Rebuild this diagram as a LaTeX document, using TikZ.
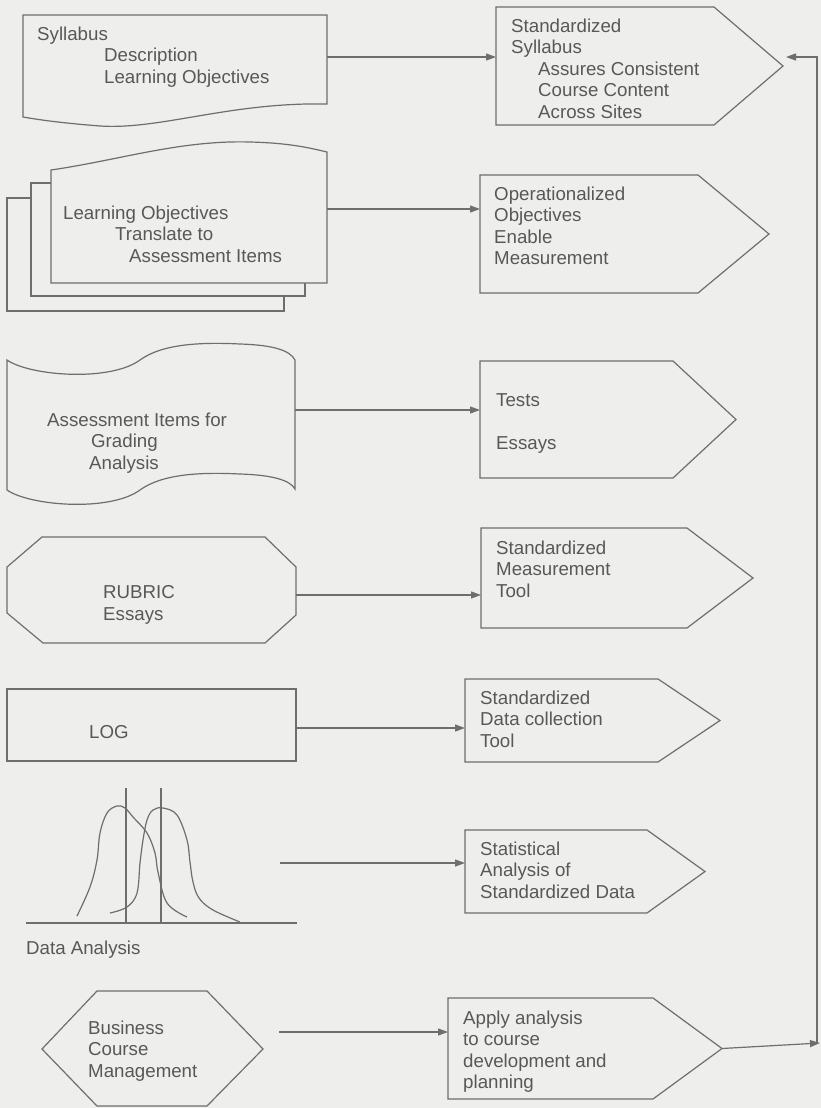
\documentclass[tikz,border=0pt]{standalone}
\usepackage{fontspec}
\setmainfont{Liberation Sans}
\usetikzlibrary{arrows.meta}
\definecolor{bgc}{RGB}{238,238,236}
\definecolor{lnc}{RGB}{110,110,110}
\definecolor{txc}{RGB}{88,88,88}
\newcommand\mypenta[5]{\draw[shp] (#1,#2) -- (#3,#2) -- (#4,{(#2+#5)/2}) -- (#3,#5) -- (#1,#5) -- cycle;}
\begin{document}
\begin{tikzpicture}[x=1pt,y=-1pt,
  shp/.style={draw=lnc,line width=1.2pt,line join=miter},
  sheet/.style={shp,fill=bgc},
  lbl/.style={text=txc,font=\fontsize{18.7}{21.5}\selectfont,align=left,anchor=north west,inner sep=0pt},
  conn/.style={draw=lnc,line width=1.2pt,-{Triangle[length=10pt,width=7pt]}},
  plain/.style={draw=lnc,line width=1.2pt}]
\useasboundingbox (0,0) rectangle (821,1108);
\fill[bgc] (0,0) rectangle (821,1108);

% ---- row 1: syllabus document
\draw[shp] (23,15) -- (327,15) -- (327,104) .. controls (230,102) and (160,130) .. (100,126)
  .. controls (62,123) and (40,120) .. (23,117) -- cycle;
\node[lbl] (tsyl) at (37,26.5) {Syllabus\\\hspace*{67pt}Description\\\hspace*{67pt}Learning Objectives};
\mypenta{496}{7}{714}{783}{125}
\node[lbl] (tstd) at (511,18.5) {Standardized\\Syllabus\\\hspace*{27pt}Assures Consistent\\\hspace*{27pt}Course Content\\\hspace*{27pt}Across Sites};
\coordinate (d1out) at (327,57);
\coordinate (s1in) at (496,57);
\draw[conn] (d1out) -- (s1in);

% ---- row 2: stacked documents
\draw[sheet] (7,198) rectangle (284,311);
\draw[sheet] (31,183) rectangle (305,296);
\draw[sheet] (51,283) -- (51,170) .. controls (120,160) and (180,140) .. (250,142)
  .. controls (290,143) and (310,148) .. (327,152) -- (327,283) -- cycle;
\node[lbl] (tlo) at (63,205.5) {Learning Objectives\\\hspace*{52pt}Translate to\\\hspace*{66pt}Assessment Items};
\mypenta{480}{175}{698}{769}{293}
\node[lbl] (top) at (494,186.5) {Operationalized\\Objectives\\Enable\\Measurement};
\coordinate (d2out) at (327,209);
\coordinate (s2in) at (480,209);
\draw[conn] (d2out) -- (s2in);

% ---- row 3: punched tape
\draw[shp] (7,360) .. controls (30,376) and (110,382) .. (140,360)
  .. controls (162,344) and (200,342) .. (240,344) .. controls (272,345) and (290,350) .. (295,360)
  -- (295,489) .. controls (290,480) and (272,475) .. (240,474)
  .. controls (200,472) and (162,474) .. (140,490) .. controls (110,512) and (30,506) .. (7,490) -- cycle;
\node[lbl] (tai) at (47,412.5) {Assessment Items for\\\hspace*{44pt}Grading\\\hspace*{42pt}Analysis};
\mypenta{480}{361}{673}{736}{478}
\node[lbl] (ttests) at (496,393.5) {Tests\\[21.5pt]Essays};
\coordinate (d3out) at (295,410);
\coordinate (s3in) at (480,410);
\draw[conn] (d3out) -- (s3in);

% ---- row 4: rubric
\draw[shp] (42,537) -- (265,537) -- (296,567) -- (296,615) -- (265,643) -- (43,643) -- (7,613) -- (7,567) -- cycle;
\node[lbl] (trub) at (103,585.5) {RUBRIC\\Essays};
\mypenta{481}{528}{687}{753}{628}
\node[lbl] (tmeas) at (496,540.5) {Standardized\\Measurement\\Tool};
\coordinate (d4out) at (296,595);
\coordinate (s4in) at (481,595);
\draw[conn] (d4out) -- (s4in);

% ---- row 5: log
\draw[shp] (7,689) rectangle (296,761);
\node[lbl] (tlog) at (89,725.5) {LOG};
\mypenta{465}{679}{658}{720}{762}
\node[lbl] (tdat) at (480,690.5) {Standardized\\Data collection\\Tool};
\coordinate (d5out) at (296,728);
\coordinate (s5in) at (465,728);
\draw[conn] (d5out) -- (s5in);

% ---- row 6: data analysis
\draw[plain] (26,923) -- (297,923);
\draw[plain] (126,788) -- (126,923);
\draw[plain] (161,788) -- (161,923);
\draw[plain] plot[smooth,tension=0.6] coordinates {(77,916) (90,887) (97,860) (100,833) (107,813) (117,806) (125,808) (133,817) (147,833) (155,853) (158,872) (167,903) (187,917)};
\draw[plain] plot[smooth,tension=0.6] coordinates {(110,913) (127,907) (137,893) (140,863) (143,840) (147,820) (153,810) (163,808) (177,815) (187,840) (190,862) (193,882) (199,898) (213,910) (240,922)};
\node[lbl] (tda) at (26,940.5) {Data Analysis};
\mypenta{465}{830}{647}{705}{913}
\node[lbl] (tstat) at (480,841.5) {Statistical\\Analysis of\\Standardized Data};
\coordinate (d6out) at (280,863);
\coordinate (s6in) at (465,863);
\draw[conn] (d6out) -- (s6in);

% ---- row 7: business
\draw[shp] (97,991) -- (207,991) -- (263,1049) -- (207,1106) -- (97,1106) -- (42,1049) -- cycle;
\node[lbl] (tbus) at (88,1020.5) {Business\\Course\\Management};
\mypenta{448}{998}{653}{722}{1099}
\node[lbl] (tapp) at (463,1010.5) {Apply analysis\\to course\\development and\\planning};
\coordinate (d7out) at (279,1032);
\coordinate (s7in) at (448,1032);
\draw[conn] (d7out) -- (s7in);

% ---- feedback loop
\coordinate (appout) at (722,1048.5);
\coordinate (fbend) at (820,1043);
\coordinate (fbbot) at (817,1043);
\coordinate (fbtop) at (817,57);
\coordinate (sylback) at (786,57);
\draw[conn] (appout) -- (fbend);
\draw[conn] (fbbot) -- (fbtop) -- (sylback);
\end{tikzpicture}
\end{document}
